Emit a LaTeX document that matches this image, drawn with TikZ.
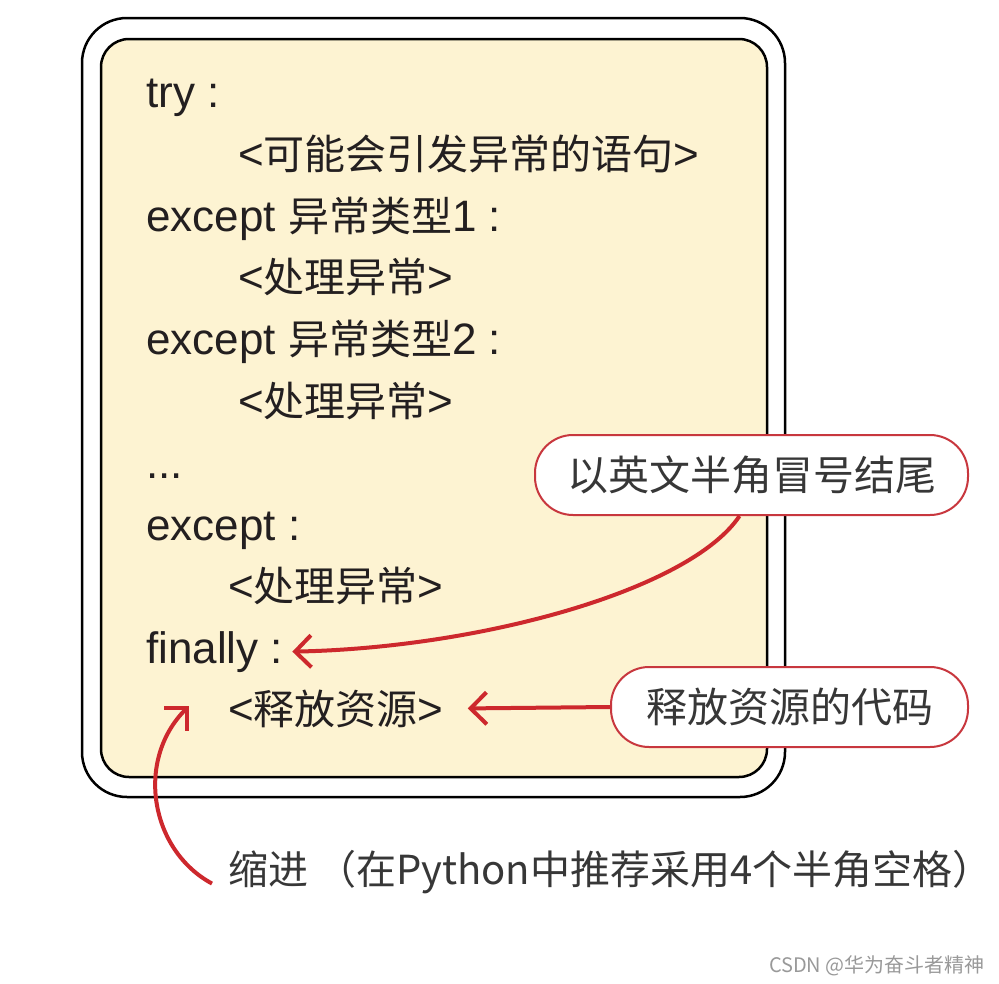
\documentclass[tikz,border=0pt]{standalone}
\usepackage{fontspec}
\setmainfont{Liberation Sans}
\newfontfamily\cjk{Noto Sans CJK SC}
\usetikzlibrary{arrows.meta}
\definecolor{boxfill}{RGB}{253,243,210}
\definecolor{ink}{RGB}{35,31,32}
\definecolor{redline}{RGB}{205,40,45}
\definecolor{calloutred}{RGB}{200,55,62}
\definecolor{graytext}{RGB}{55,55,55}
\tikzset{
  codeline/.style={anchor=base west,inner sep=0pt,text=ink,font=\fontsize{44}{50}\selectfont},
  callout/.style={draw=calloutred,line width=2pt,fill=white,rounded corners=38pt,minimum height=80pt,inner sep=0pt,text=graytext,font=\cjk\fontsize{41}{48}\selectfont},
  redarrow/.style={draw=redline,line width=4pt,-{Straight Barb[length=16pt,width=32pt,line width=4pt]}},
}
\newcommand{\cj}[1]{{\cjk\fontsize{41}{48}\selectfont #1}}
\begin{document}
\begin{tikzpicture}[x=1pt,y=-1pt]
\useasboundingbox (0,0) rectangle (999,983);
% boxes
\draw[line width=2.5pt,rounded corners=45pt] (82,18) rectangle (785,797);
\draw[line width=2.5pt,rounded corners=28pt,fill=boxfill] (101,39) rectangle (767,777);
% code lines
\node[codeline] (l0) at (146,107) {try :};
\node[codeline] (l1) at (238,169) {<\cj{可能会引发异常的语句}>};
\node[codeline] (l2) at (146,231) {except \cj{异常类型}1 :};
\node[codeline] (l3) at (238,292) {<\cj{处理异常}>};
\node[codeline] (l4) at (146,354) {except \cj{异常类型}2 :};
\node[codeline] (l5) at (238,416) {<\cj{处理异常}>};
\node[codeline] (l6) at (146,478) {...};
\node[codeline] (l7) at (146,540) {except :};
\node[codeline] (l8) at (228,601) {<\cj{处理异常}>};
\node[codeline] (fin) at (146,663) {finally :};
\node[codeline] (res) at (228,724) {<\cj{释放资源}>};
% callouts
\node[callout,minimum width=433pt] (c1) at (751.5,475) {以英文半角冒号结尾};
\node[callout,minimum width=357pt] (c2) at (789.5,707) {释放资源的代码};
% indent note
\node[anchor=base west,inner sep=0pt,text=graytext,font=\cjk\fontsize{40}{46}\selectfont] (ind) at (228,884) {缩进\hspace{8pt}（在Python中推荐采用4个半角空格）};
\coordinate (indtip) at (189,706);
% arrows
\draw[redarrow] ([xshift=-12pt]c1.south) .. controls (690,590) and (480,648) .. ([xshift=9pt]fin.east);
\draw[redarrow] (c2.west) -- ([xshift=24pt]res.east);
\draw[redarrow] ([xshift=-16pt,yshift=-12pt]ind.west) .. controls (150,850) and (135,760) .. (indtip);
% watermark
\node[anchor=base east,inner sep=0pt,text=gray!80,font=\cjk\fontsize{20}{24}\selectfont] (wm) at (985,972) {CSDN @华为奋斗者精神};
\end{tikzpicture}
\end{document}
